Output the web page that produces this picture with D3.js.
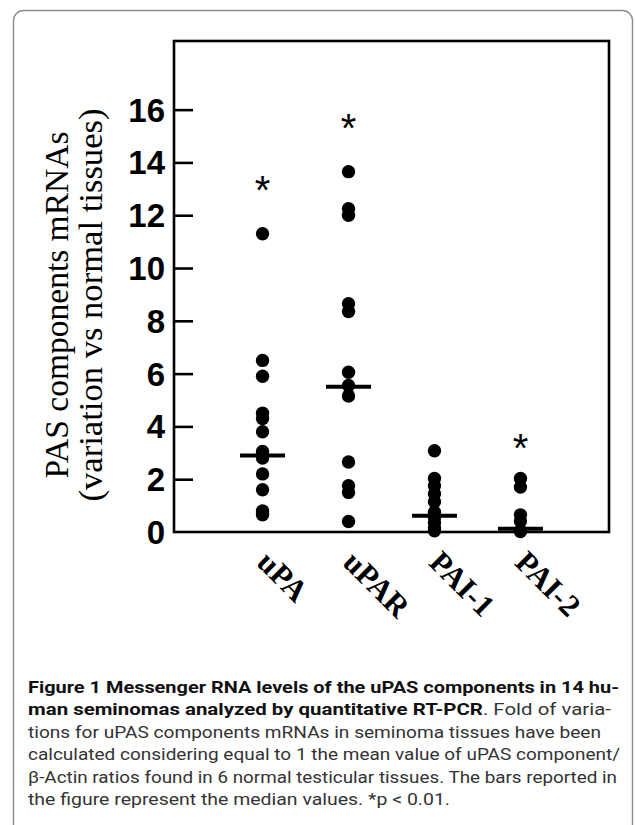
<!DOCTYPE html>
<html>
<head>
<meta charset="utf-8">
<script src="https://cdn.jsdelivr.net/npm/d3@7"></script>
<style>
  body { margin: 0; background: #fff; }
  svg { display: block; }
</style>
</head>
<body>
<div id="chart"></div>
<script>
// groups on the x axis
let categories = ['uPA', 'uPAR', 'PAI-1', 'PAI-2']

// fold of variation, one list per group
let uPA = [11.3, 6.5, 5.9, 4.5, 4.3, 3.8, 3.05, 2.9, 2.8, 2.2, 1.6, 0.8, 0.7, 0.65]
let uPAR = [13.65, 12.25, 12.0, 8.65, 8.35, 6.05, 5.55, 5.15, 2.65, 1.75, 1.5, 0.4]
let PAI1 = [3.08, 2.03, 1.75, 1.45, 1.15, 0.75, 0.55, 0.35, 0.15, 0.05]
let PAI2 = [2.03, 1.7, 0.65, 0.42, 0.05, 0.02]

// median bars
let medians = [2.9, 5.5, 0.62, 0.12]

// significance stars (group, height in data units)
let stars = [['uPA', 13.25], ['uPAR', 15.6], ['PAI-2', 3.5]]

let yTicks = [0, 2, 4, 6, 8, 10, 12, 14, 16]

let captionLines = [
    [['Figure 1 Messenger RNA levels of the uPAS components in 14 hu-', true]],
    [['man seminomas analyzed by quantitative RT-PCR', true], ['. Fold of varia-', false]],
    [['tions for uPAS components mRNAs in seminoma tissues have been', false]],
    [['calculated considering equal to 1 the mean value of uPAS component/', false]],
    [['\u03B2-Actin ratios found in 6 normal testicular tissues. The bars reported in', false]],
    [['the figure represent the median values. *p < 0.01.', false]]
]
let captionWidths = [591, 583, 573, 592, 589, 422]

let series = [uPA, uPAR, PAI1, PAI2]

const W = 635, H = 825
var margin = { top: 41, right: 26, bottom: 293, left: 174 }

let svg = d3.select('#chart').append('svg')
    .attr('width', W)
    .attr('height', H)

// outer rounded frame of the figure
svg.append('rect')
    .attr('x', 13.5).attr('y', 10.5)
    .attr('width', 619).attr('height', 840)
    .attr('rx', 10)
    .attr('fill', 'none')
    .attr('stroke', '#8c8c8c')
    .attr('stroke-width', 1.4)

let x = d3.scalePoint()
    .domain(categories)
    .range([margin.left, W - margin.right])
    .padding(1.03)

let y = d3.scaleLinear()
    .domain([0, 18.6])
    .range([H - margin.bottom, margin.top])

// plot frame
svg.append('rect')
    .attr('x', margin.left).attr('y', margin.top)
    .attr('width', W - margin.right - margin.left)
    .attr('height', H - margin.bottom - margin.top)
    .attr('fill', 'none')
    .attr('stroke', '#000')
    .attr('stroke-width', 2.6)

// y axis: inward ticks, big bold labels
let yAxis = d3.axisRight(y)
    .tickValues(yTicks.filter(d => d > 0))
    .tickSize(19)
    .tickFormat('')
let ga = svg.append('g')
    .attr('transform', 'translate(' + margin.left + ',0)')
    .call(yAxis)
ga.select('.domain').remove()
ga.selectAll('.tick line').attr('stroke', '#000').attr('stroke-width', 2.6)

svg.append('g').selectAll('text')
    .data(yTicks)
    .enter()
    .append('text')
    .attr('x', 165)
    .attr('y', d => y(d) + 12)
    .attr('text-anchor', 'end')
    .style('font-family', '"Liberation Sans", Arial, sans-serif')
    .style('font-weight', 'bold')
    .style('font-size', '33px')
    .text(d => d)

// y axis title, two lines
let titleY = 305
svg.append('text')
    .attr('transform', 'translate(68,' + titleY + ') rotate(-90)')
    .attr('text-anchor', 'middle')
    .attr('textLength', 347)
    .attr('lengthAdjust', 'spacingAndGlyphs')
    .style('font-family', '"Liberation Serif", "Times New Roman", serif')
    .style('font-size', '33px')
    .text('PAS components mRNAs')
svg.append('text')
    .attr('transform', 'translate(102,' + titleY + ') rotate(-90)')
    .attr('text-anchor', 'middle')
    .attr('textLength', 393)
    .attr('lengthAdjust', 'spacingAndGlyphs')
    .style('font-family', '"Liberation Serif", "Times New Roman", serif')
    .style('font-size', '33px')
    .text('(variation vs normal tissues)')

// dots
let groups = svg.append('g').selectAll('g')
    .data(series)
    .enter()
    .append('g')
groups.selectAll('circle')
    .data((d, i) => d.map(v => ({ cat: categories[i], v: v })))
    .enter()
    .append('circle')
    .attr('cx', d => x(d.cat))
    .attr('cy', d => y(d.v))
    .attr('r', 6.7)
    .attr('fill', '#000')

// median bars
svg.append('g').selectAll('line')
    .data(medians)
    .enter()
    .append('line')
    .attr('x1', (d, i) => x(categories[i]) - 22.5)
    .attr('x2', (d, i) => x(categories[i]) + 22.5)
    .attr('y1', d => y(d))
    .attr('y2', d => y(d))
    .attr('stroke', '#000')
    .attr('stroke-width', 4)

// stars
svg.append('g').selectAll('text')
    .data(stars)
    .enter()
    .append('text')
    .attr('x', d => x(d[0]))
    .attr('y', d => y(d[1]) + 22)
    .attr('text-anchor', 'middle')
    .style('font-family', '"Liberation Sans", Arial, sans-serif')
    .style('font-size', '40px')
    .text('*')

// category labels, slanted
svg.append('g').selectAll('text')
    .data(categories)
    .enter()
    .append('text')
    .attr('transform', d => 'translate(' + (x(d) - 7) + ',564) rotate(45)')
    .style('font-family', '"Liberation Serif", "Times New Roman", serif')
    .style('font-weight', 'bold')
    .style('font-size', '31px')
    .text(d => d)

// caption
let cap = svg.append('g')
captionLines.forEach((parts, i) => {
    let t = cap.append('text')
        .attr('x', 28)
        .attr('y', 693 + i * 22.4)
        .attr('textLength', captionWidths[i])
        .attr('lengthAdjust', 'spacingAndGlyphs')
        .style('font-family', 'Roboto, "Noto Sans", sans-serif')
        .style('font-size', '17px')
    parts.forEach(p => {
        t.append('tspan')
            .style('font-weight', p[1] ? 'bold' : 'normal')
            .attr('fill', p[1] ? '#111' : '#333')
            .text(p[0])
    })
})
</script>
</body>
</html>
